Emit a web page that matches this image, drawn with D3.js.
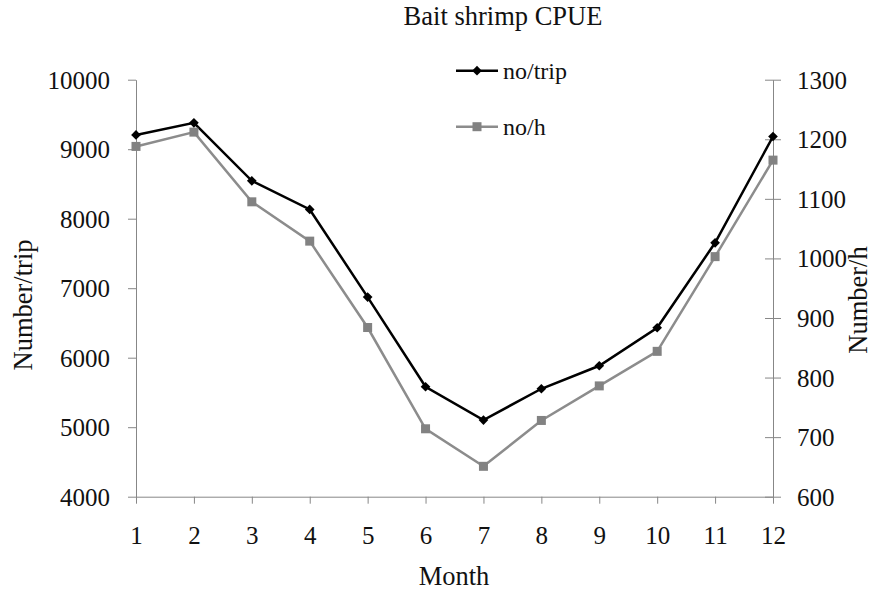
<!DOCTYPE html>
<html>
<head>
<meta charset="utf-8">
<script src="https://cdn.jsdelivr.net/npm/d3@7"></script>
<style>
  html, body { margin: 0; padding: 0; background: #fff; }
  svg { display: block; font-family: "Liberation Serif", "Times New Roman", serif; }
</style>
</head>
<body>
<svg id="chart" width="873" height="592"></svg>
<script>
// Monthly catch per unit effort for bait shrimp
const months = [1, 2, 3, 4, 5, 6, 7, 8, 9, 10, 11, 12];
const perTrip = [9205, 9380, 8545, 8133, 6872, 5582, 5103, 5553, 5884, 6431, 7653, 9183];
const perHour = [1188, 1212, 1095, 1029, 884, 714, 651, 728, 786, 844, 1003, 1165];
const leftTicks = [4000, 5000, 6000, 7000, 8000, 9000, 10000];
const rightTicks = [600, 700, 800, 900, 1000, 1100, 1200, 1300];

const svg = d3.select("#chart");
const serif = '"Liberation Serif", "Times New Roman", serif';
const axisColor = "#878787";
const grayColor = "#8c8c8c";

const x = d3.scaleLinear().domain([1, 12]).range([136, 773]);
const yL = d3.scaleLinear().domain([4000, 10000]).range([496.7, 79.7]);
const yR = d3.scaleLinear().domain([600, 1300]).range([496.7, 79.7]);

function styleAxis(g) {
  g.attr("font-family", serif).attr("font-size", 25);
  g.select(".domain").attr("stroke", axisColor).attr("stroke-width", 1);
  g.selectAll(".tick line").attr("stroke", axisColor).attr("stroke-width", 1);
  g.selectAll(".tick text").attr("fill", "#111");
}

// Left axis
const gL = svg.append("g").attr("transform", "translate(136,0)")
  .call(d3.axisLeft(yL).tickValues(leftTicks).tickFormat(d3.format("d")).tickSize(8).tickSizeOuter(0).tickPadding(18));
styleAxis(gL);
gL.selectAll(".tick text").attr("dy", "0.34em");

// Right axis, ticks crossing the line
const gR = svg.append("g").attr("transform", "translate(773,0)")
  .call(d3.axisRight(yR).tickValues(rightTicks).tickFormat(d3.format("d")).tickSize(8).tickSizeOuter(0).tickPadding(16));
styleAxis(gR);
gR.selectAll(".tick line").attr("x1", -8);
gR.selectAll(".tick text").attr("dy", "0.34em");

// Bottom axis
const gX = svg.append("g").attr("transform", "translate(0,496.7)")
  .call(d3.axisBottom(x).tickValues(months).tickFormat(d3.format("d")).tickSize(7).tickSizeOuter(0).tickPadding(23));
styleAxis(gX);

// Series lines
const lineL = d3.line().x((d, i) => x(months[i])).y(d => yL(d));
const lineR = d3.line().x((d, i) => x(months[i])).y(d => yR(d));

svg.append("path").datum(perHour).attr("d", lineR)
  .attr("fill", "none").attr("stroke", grayColor).attr("stroke-width", 2.5);
svg.append("path").datum(perTrip).attr("d", lineL)
  .attr("fill", "none").attr("stroke", "#000").attr("stroke-width", 2.5);

// Markers
const diamond = d3.symbol().type(d3.symbolDiamond2).size(60);
svg.append("g").selectAll("rect").data(perHour).join("rect")
  .attr("x", (d, i) => x(months[i]) - 4.5).attr("y", d => yR(d) - 4.5)
  .attr("width", 9).attr("height", 9).attr("fill", "#828282");
svg.append("g").selectAll("path").data(perTrip).join("path")
  .attr("d", diamond)
  .attr("transform", (d, i) => `translate(${x(months[i])},${yL(d)})`)
  .attr("fill", "#000");

// Title
svg.append("text").attr("x", 503).attr("y", 25).attr("text-anchor", "middle")
  .attr("font-size", 26.5).attr("fill", "#111").text("Bait shrimp CPUE");

// Axis titles
svg.append("text").attr("transform", "translate(32,305) rotate(-90)")
  .attr("text-anchor", "middle").attr("font-size", 26.5).attr("fill", "#111").text("Number/trip");
svg.append("text").attr("transform", "translate(867,300) rotate(-90)")
  .attr("text-anchor", "middle").attr("font-size", 26.5).attr("fill", "#111").text("Number/h");
svg.append("text").attr("x", 454).attr("y", 585).attr("text-anchor", "middle")
  .attr("font-size", 26.5).attr("fill", "#111").text("Month");

// Legend
const legend = [
  { label: "no/trip", color: "#000", marker: "diamond", y: 70.7 },
  { label: "no/h", color: grayColor, marker: "square", y: 126.7 }
];
legend.forEach(l => {
  const g = svg.append("g");
  g.append("line").attr("x1", 456).attr("x2", 498).attr("y1", l.y).attr("y2", l.y)
    .attr("stroke", l.color).attr("stroke-width", 2.5);
  if (l.marker === "diamond") {
    g.append("path").attr("d", diamond)
      .attr("transform", `translate(477,${l.y})`).attr("fill", "#000");
  } else {
    g.append("rect").attr("x", 477 - 4.5).attr("y", l.y - 4.5)
      .attr("width", 9).attr("height", 9).attr("fill", "#828282");
  }
  g.append("text").attr("x", 503).attr("y", l.y + 8).attr("font-size", 24)
    .attr("fill", "#111").text(l.label);
});
</script>
</body>
</html>
